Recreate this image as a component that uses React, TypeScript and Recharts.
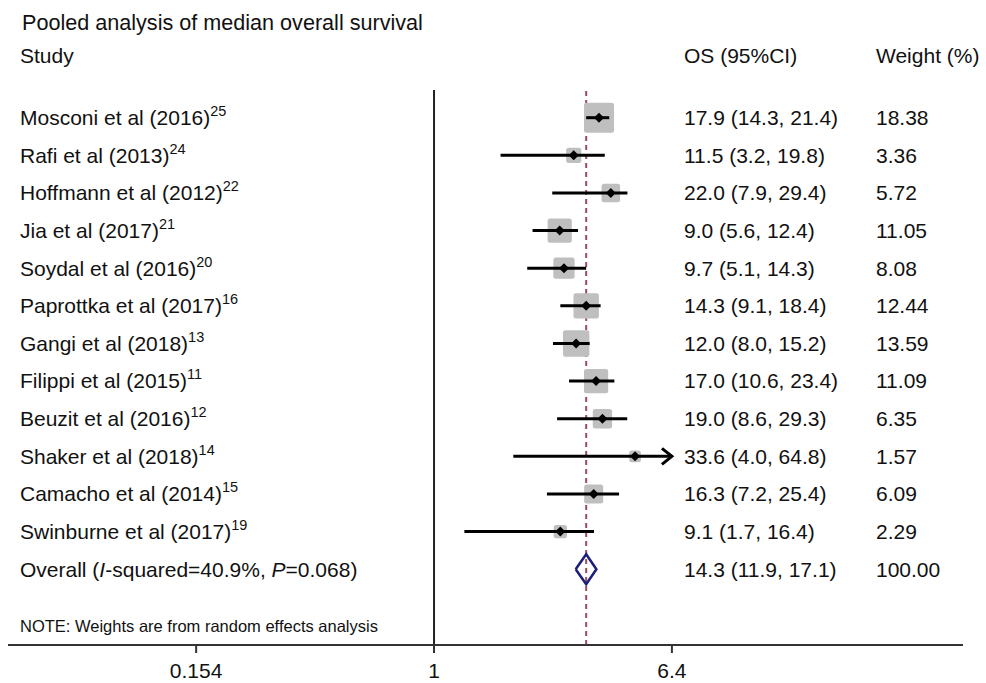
import { ComposedChart, ReferenceLine, Scatter, XAxis, YAxis } from 'recharts';

const studies = [
  'Mosconi et al (2016)',
  'Rafi et al (2013)',
  'Hoffmann et al (2012)',
  'Jia et al (2017)',
  'Soydal et al (2016)',
  'Paprottka et al (2017)',
  'Gangi et al (2018)',
  'Filippi et al (2015)',
  'Beuzit et al (2016)',
  'Shaker et al (2018)',
  'Camacho et al (2014)',
  'Swinburne et al (2017)',
];
const refs = ['25', '24', '22', '21', '20', '16', '13', '11', '12', '14', '15', '19'];
const osMedian = [17.9, 11.5, 22.0, 9.0, 9.7, 14.3, 12.0, 17.0, 19.0, 33.6, 16.3, 9.1];
const ciLow = [14.3, 3.2, 7.9, 5.6, 5.1, 9.1, 8.0, 10.6, 8.6, 4.0, 7.2, 1.7];
const ciHigh = [21.4, 19.8, 29.4, 12.4, 14.3, 18.4, 15.2, 23.4, 29.3, 64.8, 25.4, 16.4];
const weights = [18.38, 3.36, 5.72, 11.05, 8.08, 12.44, 13.59, 11.09, 6.35, 1.57, 6.09, 2.29];

const overallEst = 14.3;
const overallLow = 11.9;
const overallHigh = 17.1;
const overallWeight = 100.0;
const overallI2 = '40.9%';
const overallP = '0.068';

const tickValues = [1 / 64, 1, 64];
const tickLabels = ['0.154', '1', '6.4'];

const FONT = '"Liberation Sans", Arial, sans-serif';
const TEXT = '#111';
const X_DOMAIN = [Math.exp(-7.448), Math.exp(9.248)];
const Y_DOMAIN = [-0.736, 14.013];
const COL_STUDY = 20;
const COL_OS = 684;
const COL_WEIGHT = 876;

const rows = studies.map((name, i) => ({
  x: osMedian[i],
  y: i,
  name,
  ref: refs[i],
  lo: ciLow[i],
  hi: ciHigh[i],
  w: weights[i],
}));
const overallRow = { x: overallEst, y: studies.length, lo: overallLow, hi: overallHigh, w: overallWeight, overall: true };
const xMax = tickValues[tickValues.length - 1];
const arrows = rows.filter((r) => r.hi > xMax).map((r) => ({ x: xMax, y: r.y }));
const diamond = [
  { x: overallLow, y: overallRow.y },
  { x: overallEst, y: overallRow.y - 0.4 },
  { x: overallHigh, y: overallRow.y },
  { x: overallEst, y: overallRow.y + 0.4 },
  { x: overallLow, y: overallRow.y },
];

const fmt = (v: number) => v.toFixed(1);
const Empty = () => <g />;

const WeightBox = (props: any) => {
  const { cx, cy, payload } = props;
  const s = 6.03 * Math.sqrt(payload.w) + 4.15;
  return <rect x={cx - s / 2} y={cy - s / 2} width={s} height={s} rx={2.5} fill="#bfbfbf" />;
};

const Arrow = (props: any) => {
  const { cx, cy } = props;
  return <path d={`M${cx - 10},${cy - 8} L${cx},${cy} L${cx - 10},${cy + 8}`} fill="none" stroke="#000" strokeWidth={3} />;
};

const RowText = (props: any) => {
  const { cx, cy, payload } = props;
  const osText = `${fmt(payload.x)} (${fmt(payload.lo)}, ${fmt(payload.hi)})`;
  return (
    <g fontFamily={FONT} fill={TEXT} fontSize={21}>
      {!payload.overall && (
        <path d={`M${cx - 5},${cy} L${cx},${cy - 5} L${cx + 5},${cy} L${cx},${cy + 5} Z`} fill="#000" />
      )}
      {payload.overall ? (
        <text x={COL_STUDY} y={cy} dy="0.35em">
          Overall (<tspan fontStyle="italic">I</tspan>-squared={overallI2}, <tspan fontStyle="italic">P</tspan>={overallP})
        </text>
      ) : (
        <text x={COL_STUDY} y={cy} dy="0.35em">
          {payload.name}
          <tspan fontSize={14.5} dy={-9}>{payload.ref}</tspan>
        </text>
      )}
      <text x={COL_OS} y={cy} dy="0.35em">{osText}</text>
      <text x={COL_WEIGHT} y={cy} dy="0.35em">{payload.w.toFixed(2)}</text>
    </g>
  );
};

export default function App() {
  return (
    <div style={{ position: 'fixed', left: 0, top: 0, width: 986, height: 683, background: '#fff' }}>
      <ComposedChart width={986} height={683} margin={{ top: 90, right: 23, bottom: 0, left: 8 }}>
        <XAxis
          dataKey="x"
          type="number"
          scale="log"
          domain={X_DOMAIN}
          allowDataOverflow
          ticks={tickValues}
          tickFormatter={(_v: number, i: number) => tickLabels[i]}
          tick={{ fontSize: 21, fill: TEXT, fontFamily: FONT }}
          tickSize={8}
          tickMargin={10}
          tickLine={{ stroke: '#333', strokeWidth: 2 }}
          axisLine={{ stroke: '#333', strokeWidth: 2 }}
          height={38}
        />
        <XAxis
          xAxisId="top"
          orientation="top"
          type="number"
          scale="log"
          domain={X_DOMAIN}
          allowDataOverflow
          tick={false}
          tickLine={false}
          axisLine={{ stroke: '#c8c8c8', strokeWidth: 2 }}
          height={0}
        />
        <YAxis dataKey="y" type="number" domain={Y_DOMAIN} allowDataOverflow reversed hide />
        <ReferenceLine x={1} stroke="#222" strokeWidth={2} />
        <ReferenceLine x={overallEst} stroke="#9c4a5c" strokeWidth={2} strokeDasharray="5 4" />
        <Scatter data={rows} shape={WeightBox} isAnimationActive={false} />
        {rows.map((r) => (
          <Scatter
            key={r.name}
            data={[
              { x: r.lo, y: r.y },
              { x: Math.min(r.hi, xMax), y: r.y },
            ]}
            line={{ stroke: '#000', strokeWidth: 3 }}
            shape={Empty}
            isAnimationActive={false}
          />
        ))}
        <Scatter data={arrows} shape={Arrow} isAnimationActive={false} />
        <Scatter
          data={diamond}
          line={{ stroke: '#1b1f7a', strokeWidth: 2.5, strokeLinejoin: 'miter' }}
          shape={Empty}
          isAnimationActive={false}
        />
        <Scatter data={[...rows, overallRow]} shape={RowText} isAnimationActive={false} />
        <g fontFamily={FONT} fill={TEXT}>
          <text x={22} y={30} fontSize={21.6}>Pooled analysis of median overall survival</text>
          <text x={COL_STUDY} y={63} fontSize={21}>Study</text>
          <text x={COL_OS} y={63} fontSize={21}>OS (95%CI)</text>
          <text x={COL_WEIGHT} y={63} fontSize={21}>Weight (%)</text>
          <text x={COL_STUDY} y={632} fontSize={16.5}>NOTE: Weights are from random effects analysis</text>
        </g>
      </ComposedChart>
    </div>
  );
}
